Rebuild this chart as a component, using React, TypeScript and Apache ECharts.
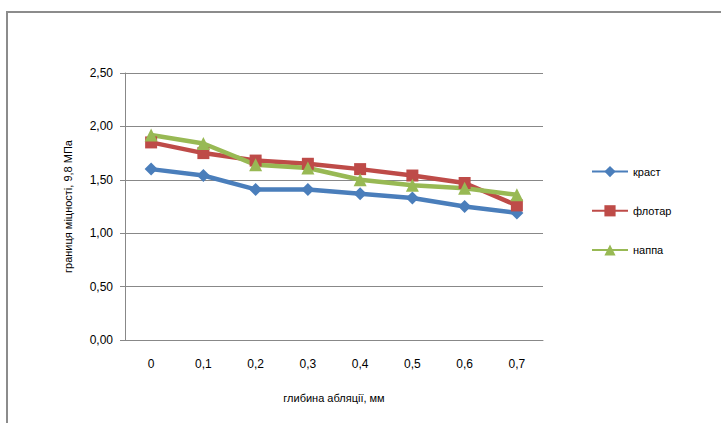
import React, { useEffect, useRef } from "react";
import * as echarts from "echarts";

const categories = ["0", "0,1", "0,2", "0,3", "0,4", "0,5", "0,6", "0,7"];
const krast = [1.6, 1.54, 1.41, 1.41, 1.37, 1.33, 1.25, 1.19];
const flotar = [1.85, 1.75, 1.68, 1.65, 1.6, 1.54, 1.47, 1.26];
const nappa = [1.92, 1.84, 1.64, 1.61, 1.5, 1.45, 1.42, 1.36];
const names = ["краст", "флотар", "наппа"];
const colors = ["#4a7ebb", "#be4b48", "#98b954"];
const symbols = ["diamond", "rect", "triangle"];

export default function App() {
  const ref = useRef<HTMLDivElement>(null);
  useEffect(() => {
    const chart = echarts.init(ref.current!, null, { renderer: "svg" });
    const font = "Liberation Sans";
    const data = [krast, flotar, nappa];
    chart.setOption({
      animation: false,
      textStyle: { fontFamily: font },
      graphic: [
        { type: "line", shape: { x1: 6, y1: 12, x2: 721, y2: 12 }, style: { stroke: "#8c8c8c", lineWidth: 2 } },
        { type: "line", shape: { x1: 7, y1: 12, x2: 7, y2: 423 }, style: { stroke: "#8c8c8c", lineWidth: 2 } },
      ],
      grid: { left: 125, right: 178, top: 73, bottom: 83 },
      legend: {
        orient: "vertical", left: 586, top: 161, itemGap: 28, itemWidth: 36, itemHeight: 14,
        textStyle: { fontSize: 11, color: "#000", fontFamily: font },
        data: names,
      },
      xAxis: {
        type: "category", data: categories, boundaryGap: true,
        name: "глибина абляції, мм", nameLocation: "middle", nameGap: 52,
        nameTextStyle: { fontSize: 11, color: "#000" },
        axisLine: { lineStyle: { color: "#888" } }, axisTick: { show: false },
        axisLabel: { color: "#000", fontSize: 12, margin: 18 },
      },
      yAxis: {
        type: "value", min: 0, max: 2.5, interval: 0.5,
        name: "границя міцності, 9,8 МПа", nameLocation: "middle", nameGap: 52,
        nameTextStyle: { fontSize: 11, color: "#000" },
        axisLine: { show: true, lineStyle: { color: "#888" } },
        axisTick: { show: true, length: 5, lineStyle: { color: "#888" } },
        splitLine: { lineStyle: { color: "#888" } },
        axisLabel: { color: "#000", fontSize: 12, margin: 12, formatter: (v: number) => v.toFixed(2).replace(".", ",") },
      },
      series: names.map((n, i) => ({
        name: n, type: "line", data: data[i], symbol: symbols[i],
        symbolSize: i === 1 ? 12 : 13,
        lineStyle: { width: 4.5, color: colors[i] },
        itemStyle: { color: colors[i] },
      })),
    });
    return () => chart.dispose();
  }, []);
  return <div ref={ref} style={{ position: "absolute", left: 0, top: 0, width: 721, height: 423, background: "#fff" }} />;
}
